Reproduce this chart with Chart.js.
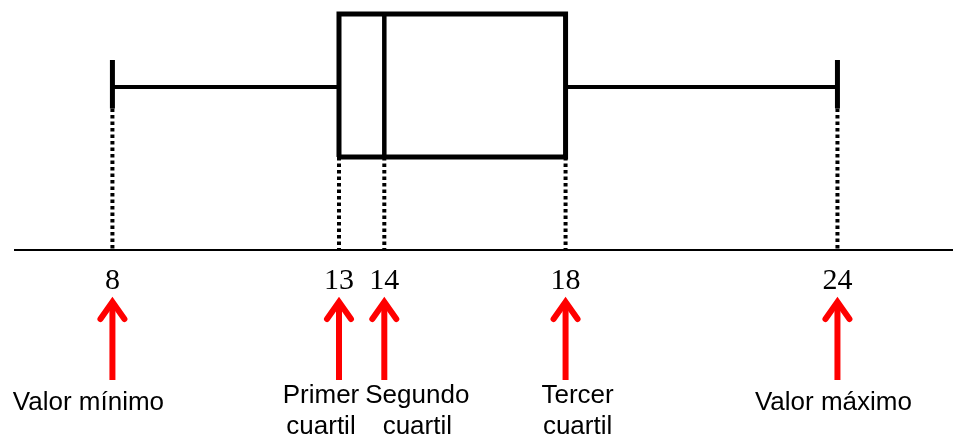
<!DOCTYPE html>
<html>
<head>
<meta charset="utf-8">
<script src="https://cdn.jsdelivr.net/npm/chart.js@4.4.1/dist/chart.umd.min.js"></script>
<style>
  html, body { margin: 0; padding: 0; background: #fff; }
  #wrap { width: 953px; height: 436px; }
</style>
</head>
<body>
<div id="wrap"><canvas id="chart"></canvas></div>
<script>
// five-number summary
const statNames = ['min', 'q1', 'median', 'q3', 'max'];
const statValues = [8, 13, 14, 18, 24];
const tickValues = [8, 13, 14, 18, 24];
const statLabels = ['Valor mínimo', ['Primer', 'cuartil'], ['Segundo', 'cuartil'], ['Tercer', 'cuartil'], 'Valor máximo'];

const [vMin, vQ1, vMed, vQ3, vMax] = statValues;

// vertical layout of the box (y axis is hidden, 0 = the number line)
const boxTop = 0.944, boxBottom = 0.372, whiskerY = 0.652, capTop = 0.76, capBottom = 0.566;

const solid = (pts, width) => ({
  data: pts, borderColor: '#000', borderWidth: width, pointRadius: 0,
  borderJoinStyle: 'miter', borderCapStyle: 'butt', tension: 0, fill: false
});
const dotted = (v, from) => ({
  data: [{ x: v, y: from }, { x: v, y: 0 }], borderColor: '#000', borderWidth: 4,
  borderDash: [3.5, 3], pointRadius: 0, tension: 0, fill: false
});

const datasets = [
  dotted(vMin, capBottom), dotted(vQ1, boxBottom), dotted(vMed, boxBottom),
  dotted(vQ3, boxBottom), dotted(vMax, capBottom),
  solid([{ x: vMin, y: whiskerY }, { x: vQ1, y: whiskerY }], 4),
  solid([{ x: vQ3, y: whiskerY }, { x: vMax, y: whiskerY }], 4),
  solid([{ x: vMin, y: capBottom }, { x: vMin, y: capTop }], 5),
  solid([{ x: vMax, y: capBottom }, { x: vMax, y: capTop }], 5),
  solid([{ x: vMed, y: boxBottom }, { x: vMed, y: boxTop }], 4.5),
  solid([{ x: vQ1, y: boxBottom }, { x: vQ3, y: boxBottom }, { x: vQ3, y: boxTop },
         { x: vQ1, y: boxTop }, { x: vQ1, y: boxBottom }], 5)
];

// red arrows and captions under the axis
const labelShift = [-24, -18, 33, 12, -4];
const arrowPlugin = {
  id: 'arrows',
  afterDraw(chart) {
    const ctx = chart.ctx;
    const xs = chart.scales.x;
    ctx.save();
    ctx.strokeStyle = '#ff0000';
    ctx.lineWidth = 6;
    statValues.forEach((v, i) => {
      const x = xs.getPixelForValue(v);
      ctx.lineCap = 'butt';
      ctx.beginPath();
      ctx.moveTo(x, 380);
      ctx.lineTo(x, 302);
      ctx.stroke();
      ctx.lineCap = 'round';
      ctx.lineJoin = 'miter';
      ctx.beginPath();
      ctx.moveTo(x - 12, 319);
      ctx.lineTo(x, 302);
      ctx.lineTo(x + 12, 319);
      ctx.stroke();

      ctx.fillStyle = '#000';
      ctx.font = '26px "Liberation Sans", Arial, sans-serif';
      ctx.textAlign = 'center';
      ctx.textBaseline = 'middle';
      const lbl = statLabels[i];
      if (Array.isArray(lbl)) {
        ctx.fillText(lbl[0], x + labelShift[i], 396);
        ctx.fillText(lbl[1], x + labelShift[i], 427);
      } else {
        ctx.fillText(lbl, x + labelShift[i], 403);
      }
    });
    ctx.restore();
  }
};

new Chart(document.getElementById('chart'), {
  type: 'line',
  data: { datasets },
  plugins: [arrowPlugin],
  options: {
    responsive: true,
    maintainAspectRatio: false,
    animation: false,
    layout: { padding: { left: 15, right: 0, top: 0, bottom: 0 } },
    plugins: { legend: { display: false }, tooltip: { enabled: false } },
    datasets: { line: { clip: false } },
    scales: {
      x: {
        type: 'linear',
        min: 5.85,
        max: 26.55,
        afterBuildTicks: (scale) => { scale.ticks = tickValues.map(v => ({ value: v })); },
        afterFit: (scale) => { scale.height = 186; },
        grid: { display: false, drawTicks: false },
        border: { display: true, color: '#000', width: 2 },
        ticks: {
          autoSkip: false,
          maxRotation: 0,
          padding: 13,
          color: '#000',
          font: { family: '"Liberation Serif", "Times New Roman", serif', size: 30 },
          callback: (v) => String(v)
        }
      },
      y: { type: 'linear', display: false, min: 0, max: 1 }
    }
  }
});
</script>
</body>
</html>
